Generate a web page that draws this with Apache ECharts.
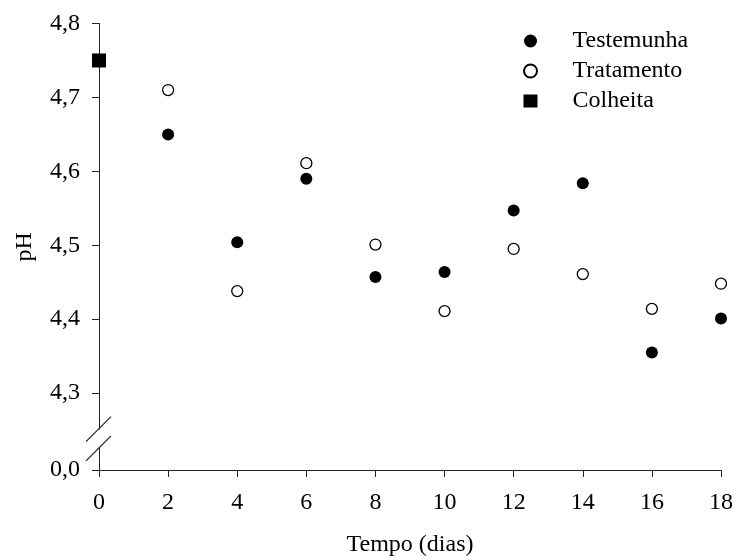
<!DOCTYPE html>
<html>
<head>
<meta charset="utf-8">
<script src="https://cdn.jsdelivr.net/npm/echarts@6/dist/echarts.min.js"></script>
<style>
  html, body { margin: 0; padding: 0; background: #fff; }
  #chart { width: 734px; height: 560px; }
</style>
</head>
<body>
<div id="chart"></div>
<script>
const dias = [2, 4, 6, 8, 10, 12, 14, 16, 18]
const testemunha = [4.650, 4.504, 4.590, 4.457, 4.464, 4.547, 4.584, 4.355, 4.401]
const tratamento = [4.710, 4.438, 4.611, 4.501, 4.411, 4.495, 4.461, 4.414, 4.448]
const colheitaDia = [0]
const colheita = [4.750]
const yTicks = [4.196, 4.3, 4.4, 4.5, 4.6, 4.7, 4.8]
const xTicks = [0, 2, 4, 6, 8, 10, 12, 14, 16, 18]

const font = 'Liberation Serif'
const ink = '#000'
const axisInk = '#222'

const chart = echarts.init(document.getElementById('chart'))

const option = {
  animation: false,
  grid: { left: 99, right: 13, top: 23.5, bottom: 90, outerBoundsMode: 'none' },
  legend: {
    orient: 'vertical',
    left: 523,
    top: 29,
    padding: 0,
    itemWidth: 14,
    itemHeight: 13,
    itemGap: 6,
    textStyle: { fontFamily: font, fontSize: 24, color: ink, padding: [0, 0, 0, 30] },
    data: ['Testemunha', 'Tratamento', 'Colheita']
  },
  xAxis: {
    type: 'value',
    min: 0,
    max: 18,
    interval: 2,
    name: 'Tempo (dias)',
    nameLocation: 'middle',
    nameGap: 63,
    nameTextStyle: { fontFamily: font, fontSize: 24, color: ink },
    splitLine: { show: false },
    axisLine: { show: true, onZero: false, lineStyle: { color: axisInk, width: 1 } },
    axisTick: { show: true, length: 7, customValues: xTicks, lineStyle: { color: axisInk } },
    axisLabel: {
      margin: 21, fontFamily: font, fontSize: 24, color: ink,
      customValues: xTicks, showMinLabel: true, showMaxLabel: true
    }
  },
  yAxis: {
    type: 'value',
    min: 4.196,
    max: 4.8,
    name: 'pH',
    nameLocation: 'middle',
    nameGap: 62,
    nameTextStyle: { fontFamily: font, fontSize: 24, color: ink },
    splitLine: { show: false },
    axisLine: { show: true, onZero: false, lineStyle: { color: axisInk, width: 1 } },
    axisTick: { show: true, length: 7, customValues: yTicks, lineStyle: { color: axisInk } },
    axisLabel: {
      margin: 19, fontFamily: font, fontSize: 24, color: ink,
      customValues: yTicks,
      formatter: (v) => (v < 4.25 ? '0,0' : v.toFixed(1).replace('.', ','))
    }
  },
  series: [
    {
      name: 'Testemunha',
      type: 'scatter',
      symbol: 'circle',
      symbolSize: 12,
      itemStyle: { color: '#000', opacity: 1 },
      data: dias.map((d, i) => [d, testemunha[i]])
    },
    {
      name: 'Tratamento',
      type: 'scatter',
      symbol: 'circle',
      symbolSize: 11,
      itemStyle: { color: '#fff', borderColor: '#000', borderWidth: 1.3, opacity: 1 },
      data: dias.map((d, i) => [d, tratamento[i]])
    },
    {
      name: 'Colheita',
      type: 'scatter',
      symbol: 'rect',
      symbolSize: 14,
      itemStyle: { color: '#000', opacity: 1 },
      z: 5,
      data: colheitaDia.map((d, i) => [d, colheita[i]])
    }
  ]
}

chart.setOption(option)

// axis break marks on the y axis
const breakHi = chart.convertToPixel({ gridIndex: 0 }, [0, 4.252])
const breakLo = chart.convertToPixel({ gridIndex: 0 }, [0, 4.226])
const ax = breakHi[0]
chart.setOption({
  graphic: [
    {
      type: 'rect',
      shape: { x: ax - 2, y: breakHi[1] + 1, width: 4, height: breakLo[1] - breakHi[1] - 2 },
      style: { fill: '#fff' },
      z: 10
    },
    {
      type: 'line',
      shape: { x1: ax - 13, y1: breakHi[1] + 13, x2: ax + 12, y2: breakHi[1] - 12 },
      style: { stroke: axisInk, lineWidth: 1.2 },
      z: 11
    },
    {
      type: 'line',
      shape: { x1: ax - 13, y1: breakLo[1] + 13, x2: ax + 12, y2: breakLo[1] - 12 },
      style: { stroke: axisInk, lineWidth: 1.2 },
      z: 11
    }
  ]
})
</script>
</body>
</html>
